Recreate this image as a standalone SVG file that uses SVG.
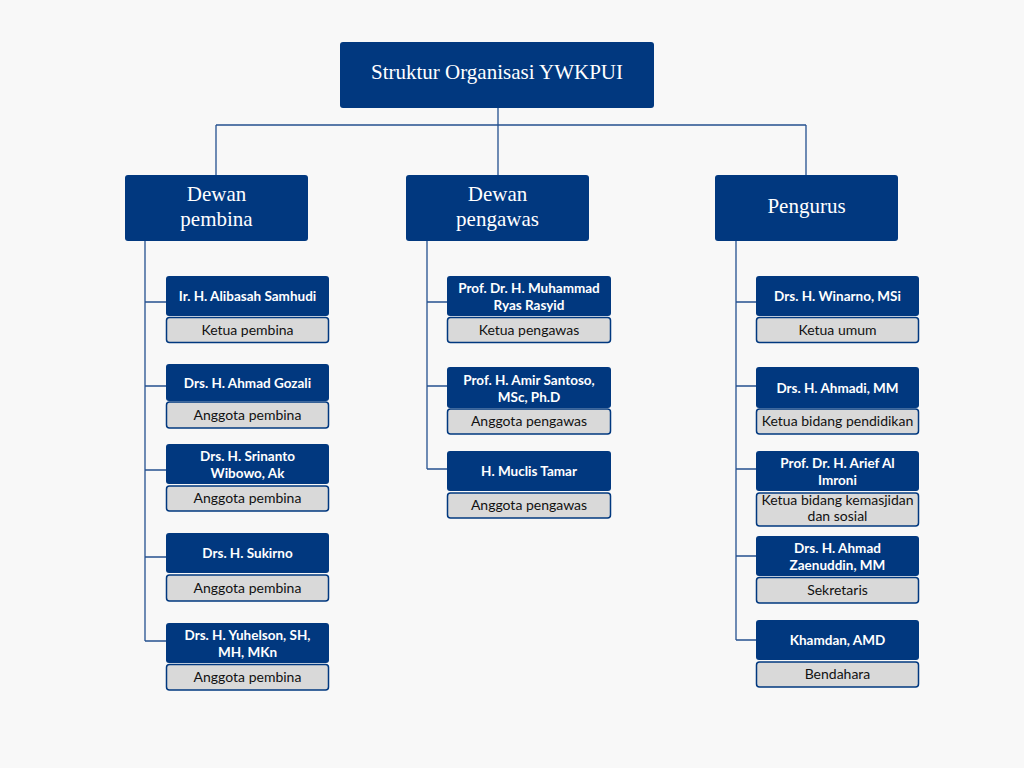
<svg xmlns="http://www.w3.org/2000/svg" width="1024" height="768" viewBox="0 0 1024 768">
<style>
.bg{fill:#f8f8f8}
.head{fill:#01387f}
.name{fill:#01387f}
.role{fill:#d9d9d9;stroke:#01387f;stroke-width:1.5}
.ht{font-family:"Liberation Serif","Times New Roman",serif;font-size:21px;fill:#ffffff;text-anchor:middle}
.nt{font-family:Lato,"Liberation Sans",sans-serif;font-size:13.5px;font-weight:bold;fill:#ffffff;text-anchor:middle}
.rt{font-family:Lato,"Liberation Sans",sans-serif;font-size:14px;fill:#111111;text-anchor:middle}
.con{fill:none;stroke:#24508f;stroke-width:1.3}
</style>
<rect class="bg" x="0" y="0" width="1024" height="768"/>

<g id="connectors">
<path class="con" d="M498 108V175M216 125H806M216 125V175M806 125V175"/>
<path class="con" d="M145 241V641M145 302H166M145 386H166M145 470H166M145 557H166M145 641H166"/>
<path class="con" d="M427 241V469M427 302H447M427 386H447M427 469H447"/>
<path class="con" d="M736 241V640M736 302H756M736 386H756M736 469H756M736 556H756M736 640H756"/>
</g>

<g id="title">
<rect class="head" x="340" y="42" width="314" height="66" rx="3"/>
<text class="ht" x="497" y="79">Struktur Organisasi YWKPUI</text>
</g>

<g id="dewan-pembina">
<rect class="head" x="125" y="175" width="183" height="66" rx="3"/>
<text class="ht" x="216.5" y="201">Dewan</text>
<text class="ht" x="216.5" y="226">pembina</text>
</g>
<g id="dewan-pengawas">
<rect class="head" x="406" y="175" width="183" height="66" rx="3"/>
<text class="ht" x="497.5" y="201">Dewan</text>
<text class="ht" x="497.5" y="226">pengawas</text>
</g>
<g id="pengurus">
<rect class="head" x="715" y="175" width="183" height="66" rx="3"/>
<text class="ht" x="806.5" y="213">Pengurus</text>
</g>

<!-- Left column -->
<g id="alibasah">
<rect class="name" x="166" y="276" width="163" height="40" rx="3"/>
<text class="nt" x="247.5" y="301">Ir. H. Alibasah Samhudi</text>
<rect class="role" x="166.5" y="317.5" width="162" height="25" rx="3"/>
<text class="rt" x="247.5" y="334.5">Ketua pembina</text>
</g>
<g id="gozali">
<rect class="name" x="166" y="364" width="163" height="37" rx="3"/>
<text class="nt" x="247.5" y="387.5">Drs. H. Ahmad Gozali</text>
<rect class="role" x="166.5" y="402" width="162" height="26" rx="3"/>
<text class="rt" x="247.5" y="419.5">Anggota pembina</text>
</g>
<g id="srinanto">
<rect class="name" x="166" y="444" width="163" height="40" rx="3"/>
<text class="nt" x="247.5" y="461">Drs. H. Srinanto</text>
<text class="nt" x="247.5" y="478">Wibowo, Ak</text>
<rect class="role" x="166.5" y="486" width="162" height="25" rx="3"/>
<text class="rt" x="247.5" y="503">Anggota pembina</text>
</g>
<g id="sukirno">
<rect class="name" x="166" y="533" width="163" height="40" rx="3"/>
<text class="nt" x="247.5" y="558">Drs. H. Sukirno</text>
<rect class="role" x="166.5" y="575" width="162" height="26" rx="3"/>
<text class="rt" x="247.5" y="592.5">Anggota pembina</text>
</g>
<g id="yuhelson">
<rect class="name" x="166" y="623" width="163" height="40" rx="3"/>
<text class="nt" x="247.5" y="640">Drs. H. Yuhelson, SH,</text>
<text class="nt" x="247.5" y="657">MH, MKn</text>
<rect class="role" x="166.5" y="664.5" width="162" height="25.5" rx="3"/>
<text class="rt" x="247.5" y="681.5">Anggota pembina</text>
</g>

<!-- Middle column -->
<g id="muhammad">
<rect class="name" x="447" y="276" width="164" height="40" rx="3"/>
<text class="nt" x="529" y="293">Prof. Dr. H. Muhammad</text>
<text class="nt" x="529" y="310">Ryas Rasyid</text>
<rect class="role" x="447.5" y="317.5" width="163" height="25" rx="3"/>
<text class="rt" x="529" y="334.5">Ketua pengawas</text>
</g>
<g id="amir">
<rect class="name" x="447" y="367" width="164" height="41" rx="3"/>
<text class="nt" x="529" y="384.5">Prof. H. Amir Santoso,</text>
<text class="nt" x="529" y="401.5">MSc, Ph.D</text>
<rect class="role" x="447.5" y="409" width="163" height="25" rx="3"/>
<text class="rt" x="529" y="426">Anggota pengawas</text>
</g>
<g id="muclis">
<rect class="name" x="447" y="451" width="164" height="40" rx="3"/>
<text class="nt" x="529" y="476">H. Muclis Tamar</text>
<rect class="role" x="447.5" y="493" width="163" height="25" rx="3"/>
<text class="rt" x="529" y="510">Anggota pengawas</text>
</g>

<!-- Right column -->
<g id="winarno">
<rect class="name" x="756" y="276" width="163" height="40" rx="3"/>
<text class="nt" x="837.5" y="301">Drs. H. Winarno, MSi</text>
<rect class="role" x="756.5" y="317.5" width="162" height="25" rx="3"/>
<text class="rt" x="837.5" y="334.5">Ketua umum</text>
</g>
<g id="ahmadi">
<rect class="name" x="756" y="367" width="163" height="41" rx="3"/>
<text class="nt" x="837.5" y="392.5">Drs. H. Ahmadi, MM</text>
<rect class="role" x="756.5" y="409" width="162" height="25" rx="3"/>
<text class="rt" x="837.5" y="426">Ketua bidang pendidikan</text>
</g>
<g id="arief">
<rect class="name" x="756" y="451" width="163" height="40" rx="3"/>
<text class="nt" x="837.5" y="467.5">Prof. Dr. H. Arief Al</text>
<text class="nt" x="837.5" y="484.5">Imroni</text>
<rect class="role" x="756.5" y="493" width="162" height="33" rx="3"/>
<text class="rt" x="837.5" y="505">Ketua bidang kemasjidan</text>
<text class="rt" x="837.5" y="521">dan sosial</text>
</g>
<g id="zaenuddin">
<rect class="name" x="756" y="536" width="163" height="40" rx="3"/>
<text class="nt" x="837.5" y="552.5">Drs. H. Ahmad</text>
<text class="nt" x="837.5" y="569.5">Zaenuddin, MM</text>
<rect class="role" x="756.5" y="577.5" width="162" height="25.5" rx="3"/>
<text class="rt" x="837.5" y="594.5">Sekretaris</text>
</g>
<g id="khamdan">
<rect class="name" x="756" y="620" width="163" height="40" rx="3"/>
<text class="nt" x="837.5" y="645">Khamdan, AMD</text>
<rect class="role" x="756.5" y="662" width="162" height="25" rx="3"/>
<text class="rt" x="837.5" y="679">Bendahara</text>
</g>
</svg>
